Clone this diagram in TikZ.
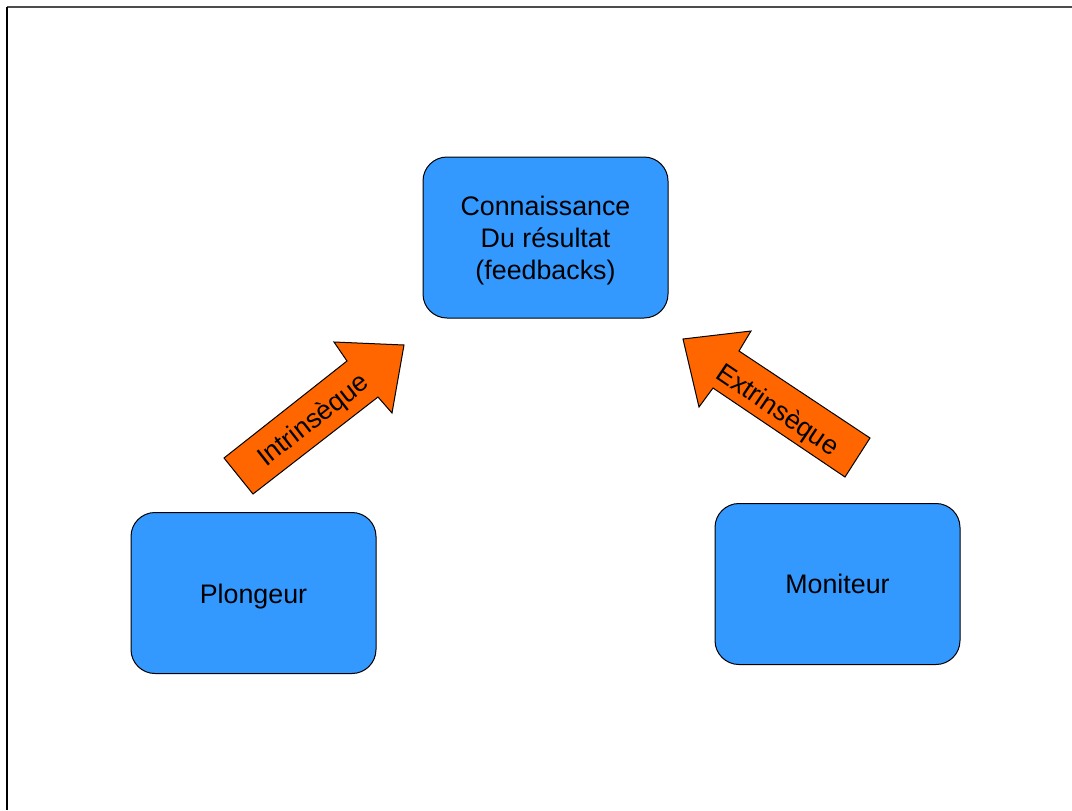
\documentclass[tikz,border=0pt]{standalone}
\usepackage{fontspec}
\setmainfont{Liberation Sans}
\definecolor{boxblue}{RGB}{51,153,255}
\definecolor{arroworange}{RGB}{255,102,0}
\begin{document}
\begin{tikzpicture}[x=0.5pt,y=-0.5pt]
    \tikzstyle{box}=[draw=black, line width=0.5pt, fill=boxblue, rounded corners=12pt,
        minimum width=122.5pt, minimum height=80.5pt, align=center,
        font=\fontsize{13.4}{16}\selectfont]
    \tikzstyle{bigarrow}=[draw=black, line width=0.5pt, fill=arroworange]
    \tikzstyle{arrowtext}=[font=\fontsize{13.4}{16}\selectfont, inner sep=0pt]
    \useasboundingbox (0,0) rectangle (1072,810);
    % page frame
    \draw[line width=0.8pt, black!70] (7,7) -- (1072,7);
    \draw[line width=1pt] (7,7) -- (7,810);
    % boxes
    \node[box, text depth=0pt] (feedback) at (545.5,237.5) {Connaissance\\Du résultat\\(feedbacks)};
    \node[box] (plongeur) at (253.5,593) {\raisebox{-2pt}[\height][\depth]{Plongeur}};
    \node[box] (moniteur) at (837.5,584) {Moniteur};
    % arrows
    \draw[bigarrow] (224,458) -- (347,361) -- (334,342) -- (404,345)
        -- (392,413) -- (378,397) -- (253,494) -- cycle;
    \node[arrowtext, rotate=38] (intr) at (314,421) {Intrinsèque};
    \draw[bigarrow] (683,339) -- (751,331) -- (739,351) -- (870,438)
        -- (845,477) -- (713,388) -- (699,407) -- cycle;
    \node[arrowtext, rotate=-34] (extr) at (777,411) {Extrinsèque};
\end{tikzpicture}
\end{document}
